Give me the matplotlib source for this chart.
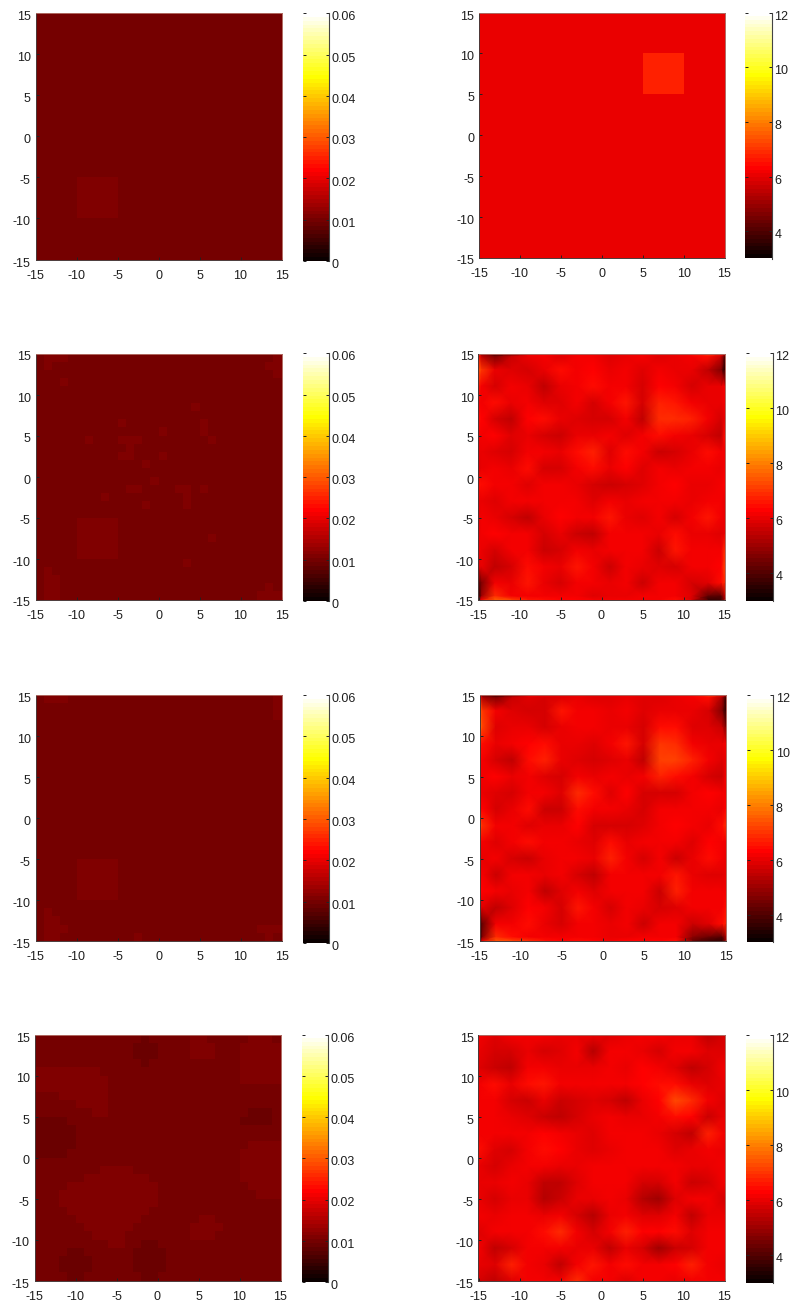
import numpy as np
import matplotlib
matplotlib.use("Agg")
import matplotlib.pyplot as plt
from matplotlib.colors import ListedColormap
from matplotlib.transforms import ScaledTranslation

plt.rcParams['font.family'] = ['Liberation Sans', 'DejaVu Sans']
plt.rcParams['axes.unicode_minus'] = False

# ---------- data ----------
TICKS = [-15, -10, -5, 0, 5, 10, 15]
LEFT_TICKS = [0, 0.01, 0.02, 0.03, 0.04, 0.05, 0.06]
LEFT_LABELS = ['0', '0.01', '0.02', '0.03', '0.04', '0.05', '0.06']
RIGHT_TICKS = [4, 6, 8, 10, 12]
RIGHT_LABELS = ['4', '6', '8', '10', '12']

# flat panels on a 5-unit grid, rows from y=15 down
COARSE_EDGES = [-15, -10, -5, 0, 5, 10, 15]
LEFT1 = [[0.0098] * 6, [0.0098] * 6, [0.0098] * 6, [0.0098] * 6,
         [0.0098, 0.0108, 0.0098, 0.0098, 0.0098, 0.0098],
         [0.0098] * 6]
RIGHT1 = [[6.02] * 6,
          [6.02, 6.02, 6.02, 6.02, 6.75, 6.02],
          [6.02] * 6, [6.02] * 6, [6.02] * 6, [6.02] * 6]

# three near-flat levels in the left panels
LEVELS = [0.0089, 0.0098, 0.0108]

# lighter 1-unit cells (lower-left corners x, y)
LEFT2_SPOT_X = [-14, -13, -12, -14, -12, -9, -5, -5, -4, -3, -4, -5, -4, -2, 0, -1, -4, -3, 3, 2, 3, 3, 5, 6, 4, 5, 5, 6, 0,
                -7, -2, 6, 3, -14, -14, -14, -13, -13, -13, -14, 12, 13, 13, 14, 13, 14, 14, 14]
LEFT2_SPOT_Y = [14, 14, 14, 13, 11, 4, 6, 4, 4, 4, 3, 2, 2, 1, 2, -1, -2, -2, -2, -2, -3, -4, -2, -8, 8, 6, 5, 4, 5,
                -3, -4, -8, -11, -12, -13, -14, -13, -14, -15, -15, -15, -15, -14, -15, 13, 14, 13, 12]
LEFT3_SPOT_X = [-14, -13, -12, -14, -14, -14, -14, -13, -13, -13, -12, 12, 13, 13, 14, 14, 14, 14, -3]
LEFT3_SPOT_Y = [14, 14, 14, -12, -13, -14, -15, -13, -14, -15, -14, -14, -14, -15, 14, 13, 12, -14, -15]
# the blurred square: x0, x1, y0, y1 of the lighter cells
LEFT_SQUARE_X = [-10, -5]
LEFT_SQUARE_Y = [-10, -5]

# fourth left panel, one character per unit cell, rows from y=15 down
LEFT4 = [
    "111111111111101111122111112221",
    "111111111111000111122211122222",
    "111111111111000111122211122222",
    "111111111111101111111111122222",
    "222222221111111111111111122222",
    "222222222111111111111111122222",
    "222222222111111111111111111111",
    "111222222111111111111111111111",
    "111112222111111111111111111111",
    "111111122111111111111111110001",
    "000011111111111111111111100001",
    "000001111111111111111111111111",
    "000001111111111111111111111111",
    "000001111111111111111111112222",
    "000011111111111111111111122222",
    "111111111111111111111111122222",
    "111111112222111111111111122222",
    "111111222222221111111111122222",
    "111122222222222111111111112222",
    "111222222222222111111111111222",
    "111222222222222111111111111111",
    "111122222222221111111111111111",
    "111112222222211111112211111111",
    "111111222222111111122221111111",
    "111111122221111111122211111111",
    "111111111221100111111111111111",
    "111100111111000011111111111111",
    "111000011111000011111111111111",
    "111000011111000011111111111111",
    "111100111111100111111111111111",
]

# noisy right panels, vertices of the triangulated surface
FINE_AXIS = [-15, -14.6, -13, -11, -9, -7, -5, -3, -1, 1, 3, 5, 7, 9, 11, 13, 14.6, 15]
RIGHT2 = [
    [6.8,5.0,3.6,4.4,6.2,6.3,6.1,6.2,6.2,6.0,6.2,6.2,6.1,6.2,6.4,7.2,6.4,5.6],
    [6.6,5.4,4.6,5.6,6.0,6.1,5.9,6.1,6.1,5.9,6.0,6.1,5.9,6.0,6.2,6.5,5.6,4.0],
    [7.4,7.0,6.0,5.9,5.8,6.0,6.5,6.2,6.3,6.0,6.2,5.9,6.2,6.0,6.0,5.4,4.6,3.4],
    [6.6,6.2,5.8,6.1,6.0,5.5,6.0,6.2,6.4,6.1,6.1,5.7,6.3,6.2,5.8,6.0,6.0,6.2],
    [6.2,6.2,6.4,6.0,6.1,5.9,5.9,6.1,5.8,6.2,6.6,5.8,6.7,6.6,6.2,6.0,6.0,6.2],
    [6.5,6.3,5.8,5.4,6.3,6.5,6.0,5.9,5.8,5.8,6.1,5.5,6.8,6.9,6.7,6.1,5.8,6.0],
    [6.2,6.2,6.3,5.9,6.0,5.8,5.6,6.0,6.0,6.1,5.9,6.1,6.5,6.2,6.0,5.8,5.4,6.4],
    [6.0,6.0,5.9,5.7,6.1,6.1,6.0,6.5,6.7,5.9,6.4,6.1,5.6,5.8,6.0,6.4,6.2,6.1],
    [5.9,6.0,6.1,6.0,6.4,5.8,5.8,6.1,6.4,6.0,6.3,5.9,6.1,6.0,6.2,6.1,6.0,6.1],
    [6.5,6.4,6.1,6.1,5.9,6.1,6.1,6.0,5.8,5.6,5.8,5.9,6.2,6.3,6.0,6.0,6.2,6.3],
    [6.0,6.0,5.9,6.1,6.2,6.1,6.1,6.1,5.9,6.2,6.0,6.1,6.2,6.1,6.0,6.2,6.1,6.0],
    [6.0,6.1,6.0,5.8,5.5,6.0,6.3,6.1,6.1,6.6,6.0,5.9,6.1,5.7,6.1,6.6,6.1,6.0],
    [6.0,6.2,6.3,6.1,6.1,5.8,6.0,5.6,5.4,6.1,6.1,6.1,6.0,6.4,6.0,6.0,5.9,6.0],
    [6.1,6.0,5.8,6.1,6.2,5.6,5.8,6.1,6.0,6.1,6.1,6.1,5.6,6.6,6.1,6.1,6.2,6.8],
    [5.9,6.0,5.5,5.8,6.4,6.1,6.0,6.6,6.2,5.6,6.1,6.0,5.9,5.8,6.1,6.1,6.3,7.2],
    [4.0,4.6,6.2,6.0,6.6,6.0,5.7,6.1,6.1,6.0,6.1,5.6,6.1,6.1,5.8,5.9,6.4,6.8],
    [3.4,5.0,6.8,6.2,6.2,6.2,6.1,6.2,5.9,6.0,6.0,6.1,6.1,6.2,5.9,4.2,4.0,5.4],
    [5.0,6.2,7.6,7.2,6.6,6.5,6.3,6.3,6.2,6.1,6.2,6.2,6.2,6.4,5.8,3.6,3.8,5.2],
]
RIGHT3 = [
    [6.2,4.4,3.5,4.6,6.1,6.1,6.0,6.1,6.0,6.0,6.1,6.1,6.0,6.1,6.3,7.2,6.3,5.4],
    [6.6,5.2,4.6,5.6,5.9,5.8,5.9,6.0,5.9,5.9,6.0,5.9,5.9,6.0,6.1,6.4,5.2,3.8],
    [7.6,7.0,6.1,5.9,5.7,5.7,6.6,6.1,6.1,6.0,6.2,5.9,6.0,6.0,6.0,5.7,4.6,3.5],
    [7.8,7.2,5.9,6.0,6.0,5.7,6.0,6.1,6.2,6.0,6.0,5.8,6.5,6.4,5.9,5.9,5.6,4.6],
    [6.6,6.4,6.0,6.2,6.3,6.4,6.0,6.0,5.9,6.1,6.6,5.8,7.0,6.9,6.2,6.0,6.0,6.2],
    [6.3,6.2,5.7,5.5,6.5,6.7,6.0,5.9,5.8,5.9,6.0,5.4,7.1,7.2,6.7,6.1,5.9,6.0],
    [6.1,6.2,6.3,6.0,6.1,5.9,5.7,6.1,6.0,6.1,6.0,6.1,6.7,6.4,6.1,5.8,5.6,6.2],
    [6.0,6.0,5.9,5.7,6.1,6.1,5.9,6.9,6.4,5.9,6.3,5.7,5.7,5.8,6.1,6.3,6.1,6.1],
    [6.2,6.3,5.7,6.0,6.4,5.6,5.6,6.5,6.2,6.1,6.0,5.8,6.1,6.2,6.2,6.1,6.0,6.3],
    [7.3,6.9,6.2,6.1,5.9,6.0,6.0,6.3,5.8,5.7,5.7,5.9,6.2,6.3,6.2,6.0,6.5,6.9],
    [6.1,6.1,5.9,6.2,6.5,6.1,6.1,6.0,5.9,6.4,6.0,6.1,6.1,6.1,5.9,6.3,6.2,6.1],
    [5.9,6.0,6.2,5.7,5.6,6.0,6.2,6.2,6.0,6.7,6.1,5.8,6.1,5.6,6.0,6.5,6.1,6.0],
    [6.0,6.2,5.6,6.1,6.2,6.0,6.1,5.7,5.5,6.2,6.2,6.1,6.1,6.6,6.0,5.9,5.9,6.0],
    [6.3,6.3,6.1,6.0,6.2,5.5,5.9,6.1,5.9,6.1,6.1,6.1,5.6,6.7,6.1,6.1,6.1,6.2],
    [5.8,5.9,5.5,5.9,6.3,6.1,5.8,6.6,6.1,5.8,6.1,6.0,5.7,5.9,6.1,6.1,6.2,6.5],
    [3.8,4.4,6.1,6.1,6.4,6.0,5.7,6.1,6.1,6.0,6.1,5.6,6.1,6.1,5.6,5.9,6.4,6.7],
    [3.4,4.8,6.8,6.4,6.1,6.2,6.1,6.1,6.1,6.0,6.0,6.1,6.1,6.2,4.8,4.4,4.0,5.2],
    [4.8,6.0,7.4,7.2,6.8,6.5,6.3,6.4,6.3,6.2,6.3,6.3,6.3,6.4,4.4,3.8,3.6,5.0],
]
SMOOTH_AXIS = [-15, -13, -11, -9, -7, -5, -3, -1, 1, 3, 5, 7, 9, 11, 13, 15]
RIGHT4 = [
    [6.1,5.9,6.1,6.2,6.2,6.0,6.0,6.0,5.9,6.0,6.1,6.1,6.0,6.0,5.4,5.8],
    [6.0,5.7,5.8,6.0,5.8,5.9,6.1,5.3,6.1,6.1,6.0,5.7,6.1,6.2,5.9,5.9],
    [5.9,5.6,5.5,6.1,6.1,6.0,6.0,6.0,6.1,6.0,6.3,6.2,5.9,5.4,5.8,6.1],
    [6.1,6.5,6.0,6.4,6.6,6.1,6.1,6.1,6.1,6.1,6.3,6.5,6.4,6.0,5.9,6.0],
    [6.1,6.1,5.7,5.6,6.0,5.6,5.7,5.9,5.8,5.5,6.0,6.3,7.3,6.8,6.1,5.9],
    [6.1,6.2,6.0,5.9,5.6,5.4,5.8,6.0,6.1,6.0,6.0,6.1,6.4,6.3,5.6,6.0],
    [6.2,6.1,6.1,6.2,6.3,6.1,6.0,5.9,6.1,6.1,6.2,6.0,5.8,5.5,6.7,6.1],
    [6.4,5.9,5.7,6.2,6.5,6.3,6.0,5.9,6.0,6.1,6.1,6.1,5.9,6.0,6.1,6.0],
    [6.0,5.8,6.0,6.1,6.1,6.0,6.0,6.1,6.1,6.1,6.1,6.1,6.1,6.0,6.0,6.1],
    [6.0,6.0,6.1,6.0,5.4,5.4,5.9,6.1,6.2,6.1,5.8,5.7,6.1,5.6,5.8,6.1],
    [6.0,5.7,6.0,6.0,5.3,5.6,6.0,6.0,6.1,6.0,5.3,5.1,5.9,6.1,6.1,5.8],
    [6.1,6.0,6.1,6.1,6.0,6.2,5.7,5.3,6.0,6.1,5.9,5.9,6.1,5.4,6.0,6.0],
    [5.9,6.1,6.1,6.2,6.4,6.8,6.1,5.7,6.1,6.7,6.3,6.3,6.5,5.9,6.1,6.1],
    [6.1,5.5,5.8,6.1,6.1,6.1,6.0,6.0,5.4,6.0,5.7,5.1,5.6,5.8,6.1,6.1],
    [6.0,5.9,6.7,6.1,6.0,5.5,6.1,6.6,6.1,6.5,6.1,6.1,6.3,6.7,6.1,6.0],
    [5.7,5.5,5.9,6.1,6.1,6.1,6.9,6.1,6.1,5.9,6.1,6.1,6.0,6.1,6.1,6.1],
]

# ---------- layout in pixels: (x0, x1, y0, y1) from the top ----------
W, H = 792, 1305
AX_LEFT = [(35.5, 281.5, 13.3, 259.5), (35.5, 281.5, 353.5, 599.5),
           (35.5, 281.5, 695, 941), (34.5, 280.5, 1034.5, 1280.5)]
CB_LEFT = [(303, 329, 13.5, 261), (303, 329, 353.5, 601),
           (303, 329, 695, 943), (301.5, 328, 1034.5, 1282)]
AX_RIGHT = [(479, 724.5, 12.5, 257.5), (478.5, 724.5, 353.5, 599.5),
            (479.5, 725.5, 694.5, 940.5), (478.5, 724.5, 1035, 1281)]
CB_RIGHT = [(745, 771.5, 12.5, 258.5), (746, 772.5, 353.5, 601),
            (747, 773, 695, 942), (746, 772.5, 1035, 1283)]


def matlab_hot(n=64):
    m = int(np.floor(3 / 8 * n))
    r = np.r_[np.arange(1, m + 1) / m, np.ones(n - m)]
    g = np.r_[np.zeros(m), np.arange(1, m + 1) / m, np.ones(n - 2 * m)]
    b = np.r_[np.zeros(2 * m), np.arange(1, n - 2 * m + 1) / (n - 2 * m)]
    return ListedColormap(np.c_[r, g, b])


HOT = matlab_hot()
TEXT = '#1e1e1e'


def spot_grid(spot_x, spot_y):
    z = np.full((30, 30), LEVELS[1])
    centres = np.arange(-14.5, 15)
    ys = centres[::-1]
    xx, yy = np.meshgrid(centres, ys)
    mask = (xx > LEFT_SQUARE_X[0]) & (xx < LEFT_SQUARE_X[1]) & (yy > LEFT_SQUARE_Y[0]) & (yy < LEFT_SQUARE_Y[1])
    z[mask] = LEVELS[2]
    for x, y in zip(spot_x, spot_y):
        z[14 - y, x + 15] = LEVELS[2]
    return z


def add_axes(box):
    x0, x1, y0, y1 = box
    return fig.add_axes([x0 / W, 1 - y1 / H, (x1 - x0) / W, (y1 - y0) / H])


def nudge_labels(ax, down_px):
    # the reference's y tick labels sit slightly below their ticks
    offset = ScaledTranslation(0, -down_px / 100, fig.dpi_scale_trans)
    for lab in ax.get_yticklabels():
        lab.set_transform(lab.get_transform() + offset)


def style_main(ax):
    ax.set_xlim(-15, 15)
    ax.set_ylim(-15, 15)
    ax.set_xticks(TICKS)
    ax.set_yticks(TICKS)
    ax.tick_params(direction='in', length=2.2, width=0.7, color='#222222', labelsize=9,
                   labelcolor=TEXT)
    ax.tick_params(axis='x', pad=7.5)
    ax.tick_params(axis='y', pad=3.5)
    for side, col in (('top', '#b06a62'), ('right', '#b06a62'), ('left', '#4a3a3a'), ('bottom', '#4a3a3a')):
        ax.spines[side].set_color(col)
        ax.spines[side].set_linewidth(0.7)
    nudge_labels(ax, 2.5)


def colorbar(box, vmin, vmax, ticks, labels):
    ax = add_axes(box)
    grad = np.linspace(vmax, vmin, 64)[:, None]
    ax.imshow(grad, cmap=HOT, vmin=vmin, vmax=vmax, aspect='auto',
              extent=[0, 1, vmin, vmax], interpolation='nearest')
    ax.set_xticks([])
    ax.yaxis.tick_right()
    ax.set_yticks(ticks)
    ax.set_yticklabels(labels)
    ax.tick_params(axis='y', which='both', left=True, right=True, direction='in', length=2,
                   width=0.7, color='#222222', labelsize=9, labelcolor=TEXT, pad=2)
    for side in ('top', 'left', 'bottom'):
        ax.spines[side].set_visible(False)
    ax.spines['right'].set_color('#444444')
    ax.spines['right'].set_linewidth(0.8)
    nudge_labels(ax, 2.5)


def draw_cells(box, edges, z, vmin, vmax):
    ax = add_axes(box)
    ax.pcolormesh(edges, edges[::-1], np.asarray(z), cmap=HOT, vmin=vmin, vmax=vmax,
                  shading='flat', antialiased=False, linewidth=0)
    style_main(ax)


def draw_surface(box, axis, z, vmin, vmax):
    ax = add_axes(box)
    ax.pcolormesh(axis, axis[::-1], np.asarray(z), cmap=HOT, vmin=vmin, vmax=vmax,
                  shading='gouraud')
    style_main(ax)


fig = plt.figure(figsize=(W / 100, H / 100), dpi=100, facecolor='white')

UNIT_EDGES = list(range(-15, 16))
left4 = [[LEVELS[int(c)] for c in row] for row in LEFT4]
left_grids = [(COARSE_EDGES, LEFT1),
              (UNIT_EDGES, spot_grid(LEFT2_SPOT_X, LEFT2_SPOT_Y)),
              (UNIT_EDGES, spot_grid(LEFT3_SPOT_X, LEFT3_SPOT_Y)),
              (UNIT_EDGES, left4)]

for box, cb, (edges, z) in zip(AX_LEFT, CB_LEFT, left_grids):
    draw_cells(box, edges, z, 0, 0.06)
    colorbar(cb, 0, 0.06, LEFT_TICKS, LEFT_LABELS)

draw_cells(AX_RIGHT[0], COARSE_EDGES, RIGHT1, 3, 12)
draw_surface(AX_RIGHT[1], FINE_AXIS, RIGHT2, 3, 12)
draw_surface(AX_RIGHT[2], FINE_AXIS, RIGHT3, 3, 12)
draw_surface(AX_RIGHT[3], SMOOTH_AXIS, RIGHT4, 3, 12)
for cb in CB_RIGHT:
    colorbar(cb, 3, 12, RIGHT_TICKS, RIGHT_LABELS)

fig.savefig('out.png', dpi=100, facecolor='white')
